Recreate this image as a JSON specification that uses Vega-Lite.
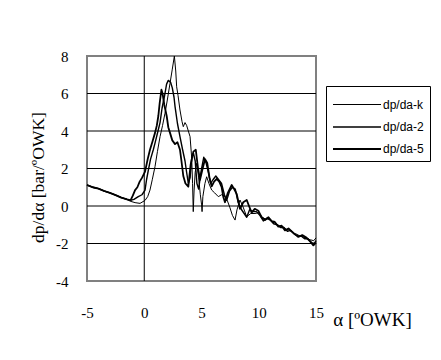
{
  "$schema": "https://vega.github.io/schema/vega-lite/v6.json",
  "width": 229,
  "height": 225,
  "autosize": {"type": "none"},
  "padding": {"left": 87, "top": 56, "right": 125, "bottom": 79},
  "background": "white",
  "config": {
    "view": {"stroke": "#808080", "strokeWidth": 2}
  },
  "datasets": {
    "curves": [
      {"s":"dp/da-k","a":-5,"v":1.12},{"s":"dp/da-k","a":-4.5,"v":1.0},{"s":"dp/da-k","a":-4,"v":0.93},{"s":"dp/da-k","a":-3.5,"v":0.8},{"s":"dp/da-k","a":-3,"v":0.7},{"s":"dp/da-k","a":-2.5,"v":0.58},{"s":"dp/da-k","a":-2,"v":0.45},{"s":"dp/da-k","a":-1.5,"v":0.35},{"s":"dp/da-k","a":-1.2,"v":0.25},
      {"s":"dp/da-k","a":-0.8,"v":0.18},{"s":"dp/da-k","a":-0.37,"v":0.14},{"s":"dp/da-k","a":0.07,"v":0.3},{"s":"dp/da-k","a":0.3,"v":0.5},{"s":"dp/da-k","a":0.5,"v":0.85},{"s":"dp/da-k","a":0.7,"v":1.4},{"s":"dp/da-k","a":0.94,"v":2.1},{"s":"dp/da-k","a":1.15,"v":2.9},{"s":"dp/da-k","a":1.38,"v":3.7},{"s":"dp/da-k","a":1.6,"v":4.3},{"s":"dp/da-k","a":1.81,"v":4.94},{"s":"dp/da-k","a":2.0,"v":5.6},{"s":"dp/da-k","a":2.25,"v":6.54},{"s":"dp/da-k","a":2.45,"v":7.3},{"s":"dp/da-k","a":2.63,"v":8.0},{"s":"dp/da-k","a":2.75,"v":7.2},{"s":"dp/da-k","a":2.83,"v":6.36},{"s":"dp/da-k","a":2.95,"v":5.9},{"s":"dp/da-k","a":3.12,"v":5.12},{"s":"dp/da-k","a":3.3,"v":4.5},{"s":"dp/da-k","a":3.41,"v":4.23},{"s":"dp/da-k","a":3.56,"v":4.45},{"s":"dp/da-k","a":3.7,"v":4.3},{"s":"dp/da-k","a":3.85,"v":4.0},{"s":"dp/da-k","a":4.0,"v":3.7},{"s":"dp/da-k","a":4.14,"v":2.6},{"s":"dp/da-k","a":4.22,"v":1.2},{"s":"dp/da-k","a":4.28,"v":-0.3},{"s":"dp/da-k","a":4.35,"v":0.8},{"s":"dp/da-k","a":4.45,"v":1.8},{"s":"dp/da-k","a":4.58,"v":2.28},{"s":"dp/da-k","a":4.75,"v":1.5},{"s":"dp/da-k","a":4.9,"v":0.6},{"s":"dp/da-k","a":5.0,"v":0.1},{"s":"dp/da-k","a":5.05,"v":-0.3},{"s":"dp/da-k","a":5.12,"v":0.5},{"s":"dp/da-k","a":5.3,"v":1.2},{"s":"dp/da-k","a":5.45,"v":1.56},{"s":"dp/da-k","a":5.65,"v":1.2},{"s":"dp/da-k","a":5.89,"v":0.85},{"s":"dp/da-k","a":6.15,"v":0.7},{"s":"dp/da-k","a":6.47,"v":0.5},{"s":"dp/da-k","a":6.75,"v":0.6},{"s":"dp/da-k","a":7.05,"v":0.5},{"s":"dp/da-k","a":7.25,"v":0.3},{"s":"dp/da-k","a":7.49,"v":-0.1},{"s":"dp/da-k","a":7.7,"v":-0.5},{"s":"dp/da-k","a":7.93,"v":-0.75},{"s":"dp/da-k","a":8.1,"v":-0.2},{"s":"dp/da-k","a":8.36,"v":0.32},{"s":"dp/da-k","a":8.6,"v":0.0},{"s":"dp/da-k","a":8.95,"v":-0.57},{"s":"dp/da-k","a":9.3,"v":-0.4},{"s":"dp/da-k","a":9.67,"v":-0.4},{"s":"dp/da-k","a":10.0,"v":-0.35},{"s":"dp/da-k","a":10.3,"v":-0.6},{"s":"dp/da-k","a":10.6,"v":-0.7},{"s":"dp/da-k","a":10.9,"v":-0.65},{"s":"dp/da-k","a":11.2,"v":-0.85},{"s":"dp/da-k","a":11.5,"v":-0.95},{"s":"dp/da-k","a":11.8,"v":-1.05},{"s":"dp/da-k","a":12.1,"v":-1.1},{"s":"dp/da-k","a":12.4,"v":-1.25},{"s":"dp/da-k","a":12.7,"v":-1.3},{"s":"dp/da-k","a":13.0,"v":-1.45},{"s":"dp/da-k","a":13.3,"v":-1.5},{"s":"dp/da-k","a":13.6,"v":-1.6},{"s":"dp/da-k","a":13.9,"v":-1.65},{"s":"dp/da-k","a":14.2,"v":-1.75},{"s":"dp/da-k","a":14.5,"v":-1.8},{"s":"dp/da-k","a":14.8,"v":-1.85},{"s":"dp/da-k","a":15.0,"v":-1.7},

      {"s":"dp/da-2","a":-5,"v":1.12},{"s":"dp/da-2","a":-4.5,"v":1.0},{"s":"dp/da-2","a":-4,"v":0.93},{"s":"dp/da-2","a":-3.5,"v":0.8},{"s":"dp/da-2","a":-3,"v":0.7},{"s":"dp/da-2","a":-2.5,"v":0.58},{"s":"dp/da-2","a":-2,"v":0.45},{"s":"dp/da-2","a":-1.5,"v":0.35},{"s":"dp/da-2","a":-1.2,"v":0.3},
      {"s":"dp/da-2","a":-0.9,"v":0.35},{"s":"dp/da-2","a":-0.52,"v":0.5},{"s":"dp/da-2","a":-0.2,"v":0.6},{"s":"dp/da-2","a":0.07,"v":0.85},{"s":"dp/da-2","a":0.2,"v":1.4},{"s":"dp/da-2","a":0.36,"v":1.92},{"s":"dp/da-2","a":0.55,"v":2.5},{"s":"dp/da-2","a":0.79,"v":3.0},{"s":"dp/da-2","a":1.0,"v":3.5},{"s":"dp/da-2","a":1.2,"v":4.0},{"s":"dp/da-2","a":1.38,"v":4.45},{"s":"dp/da-2","a":1.55,"v":5.2},{"s":"dp/da-2","a":1.81,"v":6.0},{"s":"dp/da-2","a":1.95,"v":6.5},{"s":"dp/da-2","a":2.1,"v":6.7},{"s":"dp/da-2","a":2.3,"v":6.6},{"s":"dp/da-2","a":2.45,"v":6.3},{"s":"dp/da-2","a":2.6,"v":5.8},{"s":"dp/da-2","a":2.69,"v":5.3},{"s":"dp/da-2","a":2.9,"v":4.4},{"s":"dp/da-2","a":3.12,"v":3.7},{"s":"dp/da-2","a":3.35,"v":3.0},{"s":"dp/da-2","a":3.56,"v":2.4},{"s":"dp/da-2","a":3.7,"v":1.8},{"s":"dp/da-2","a":3.85,"v":1.2},{"s":"dp/da-2","a":4.0,"v":1.5},{"s":"dp/da-2","a":4.15,"v":2.6},{"s":"dp/da-2","a":4.3,"v":2.8},{"s":"dp/da-2","a":4.45,"v":2.4},{"s":"dp/da-2","a":4.6,"v":1.2},{"s":"dp/da-2","a":4.75,"v":0.9},{"s":"dp/da-2","a":4.95,"v":1.8},{"s":"dp/da-2","a":5.2,"v":2.6},{"s":"dp/da-2","a":5.4,"v":2.3},{"s":"dp/da-2","a":5.6,"v":1.8},{"s":"dp/da-2","a":5.8,"v":1.2},{"s":"dp/da-2","a":6.0,"v":1.4},{"s":"dp/da-2","a":6.25,"v":1.6},{"s":"dp/da-2","a":6.5,"v":1.4},{"s":"dp/da-2","a":6.75,"v":1.2},{"s":"dp/da-2","a":7.0,"v":0.6},{"s":"dp/da-2","a":7.2,"v":0.3},{"s":"dp/da-2","a":7.45,"v":0.8},{"s":"dp/da-2","a":7.7,"v":1.0},{"s":"dp/da-2","a":7.95,"v":0.9},{"s":"dp/da-2","a":8.2,"v":0.2},{"s":"dp/da-2","a":8.5,"v":-0.2},{"s":"dp/da-2","a":8.95,"v":-0.6},{"s":"dp/da-2","a":9.2,"v":-0.2},{"s":"dp/da-2","a":9.5,"v":-0.3},{"s":"dp/da-2","a":9.8,"v":-0.3},{"s":"dp/da-2","a":10.1,"v":-0.5},{"s":"dp/da-2","a":10.4,"v":-0.8},{"s":"dp/da-2","a":10.7,"v":-0.65},{"s":"dp/da-2","a":11.0,"v":-0.75},{"s":"dp/da-2","a":11.3,"v":-0.95},{"s":"dp/da-2","a":11.6,"v":-1.0},{"s":"dp/da-2","a":11.9,"v":-1.15},{"s":"dp/da-2","a":12.2,"v":-1.15},{"s":"dp/da-2","a":12.5,"v":-1.35},{"s":"dp/da-2","a":12.8,"v":-1.3},{"s":"dp/da-2","a":13.1,"v":-1.5},{"s":"dp/da-2","a":13.4,"v":-1.6},{"s":"dp/da-2","a":13.7,"v":-1.6},{"s":"dp/da-2","a":14.0,"v":-1.75},{"s":"dp/da-2","a":14.3,"v":-1.75},{"s":"dp/da-2","a":14.6,"v":-1.95},{"s":"dp/da-2","a":14.85,"v":-2.0},{"s":"dp/da-2","a":15.0,"v":-1.85},

      {"s":"dp/da-5","a":-5,"v":1.12},{"s":"dp/da-5","a":-4.5,"v":1.0},{"s":"dp/da-5","a":-4,"v":0.93},{"s":"dp/da-5","a":-3.5,"v":0.8},{"s":"dp/da-5","a":-3,"v":0.7},{"s":"dp/da-5","a":-2.5,"v":0.58},{"s":"dp/da-5","a":-2,"v":0.45},{"s":"dp/da-5","a":-1.5,"v":0.35},{"s":"dp/da-5","a":-1.2,"v":0.3},
      {"s":"dp/da-5","a":-1.0,"v":0.55},{"s":"dp/da-5","a":-0.8,"v":0.85},{"s":"dp/da-5","a":-0.6,"v":1.0},{"s":"dp/da-5","a":-0.4,"v":1.3},{"s":"dp/da-5","a":-0.2,"v":1.5},{"s":"dp/da-5","a":0.07,"v":1.83},{"s":"dp/da-5","a":0.3,"v":2.5},{"s":"dp/da-5","a":0.5,"v":3.0},{"s":"dp/da-5","a":0.7,"v":3.4},{"s":"dp/da-5","a":0.94,"v":3.9},{"s":"dp/da-5","a":1.1,"v":4.3},{"s":"dp/da-5","a":1.23,"v":4.8},{"s":"dp/da-5","a":1.35,"v":5.5},{"s":"dp/da-5","a":1.5,"v":6.2},{"s":"dp/da-5","a":1.6,"v":6.0},{"s":"dp/da-5","a":1.75,"v":5.4},{"s":"dp/da-5","a":1.96,"v":4.8},{"s":"dp/da-5","a":2.1,"v":4.2},{"s":"dp/da-5","a":2.25,"v":3.9},{"s":"dp/da-5","a":2.45,"v":3.5},{"s":"dp/da-5","a":2.69,"v":3.3},{"s":"dp/da-5","a":2.9,"v":3.4},{"s":"dp/da-5","a":3.12,"v":3.0},{"s":"dp/da-5","a":3.25,"v":2.4},{"s":"dp/da-5","a":3.41,"v":1.6},{"s":"dp/da-5","a":3.6,"v":1.2},{"s":"dp/da-5","a":3.85,"v":1.03},{"s":"dp/da-5","a":4.05,"v":2.2},{"s":"dp/da-5","a":4.29,"v":2.9},{"s":"dp/da-5","a":4.5,"v":3.0},{"s":"dp/da-5","a":4.7,"v":2.0},{"s":"dp/da-5","a":4.87,"v":1.4},{"s":"dp/da-5","a":5.1,"v":2.0},{"s":"dp/da-5","a":5.31,"v":2.5},{"s":"dp/da-5","a":5.5,"v":2.3},{"s":"dp/da-5","a":5.7,"v":1.5},{"s":"dp/da-5","a":5.89,"v":1.05},{"s":"dp/da-5","a":6.1,"v":1.3},{"s":"dp/da-5","a":6.33,"v":1.45},{"s":"dp/da-5","a":6.55,"v":1.3},{"s":"dp/da-5","a":6.76,"v":1.0},{"s":"dp/da-5","a":6.9,"v":0.5},{"s":"dp/da-5","a":7.05,"v":0.2},{"s":"dp/da-5","a":7.3,"v":0.7},{"s":"dp/da-5","a":7.64,"v":1.12},{"s":"dp/da-5","a":7.85,"v":0.9},{"s":"dp/da-5","a":8.07,"v":0.65},{"s":"dp/da-5","a":8.36,"v":-0.15},{"s":"dp/da-5","a":8.65,"v":0.2},{"s":"dp/da-5","a":8.95,"v":0.32},{"s":"dp/da-5","a":9.15,"v":0.0},{"s":"dp/da-5","a":9.38,"v":-0.35},{"s":"dp/da-5","a":9.65,"v":-0.15},{"s":"dp/da-5","a":9.96,"v":-0.25},{"s":"dp/da-5","a":10.25,"v":-0.6},{"s":"dp/da-5","a":10.55,"v":-0.75},{"s":"dp/da-5","a":10.85,"v":-0.6},{"s":"dp/da-5","a":11.13,"v":-0.8},{"s":"dp/da-5","a":11.4,"v":-0.85},{"s":"dp/da-5","a":11.71,"v":-1.1},{"s":"dp/da-5","a":12.0,"v":-1.05},{"s":"dp/da-5","a":12.29,"v":-1.3},{"s":"dp/da-5","a":12.6,"v":-1.2},{"s":"dp/da-5","a":12.88,"v":-1.35},{"s":"dp/da-5","a":13.15,"v":-1.5},{"s":"dp/da-5","a":13.46,"v":-1.65},{"s":"dp/da-5","a":13.8,"v":-1.55},{"s":"dp/da-5","a":14.19,"v":-1.7},{"s":"dp/da-5","a":14.5,"v":-1.9},{"s":"dp/da-5","a":14.77,"v":-2.1},{"s":"dp/da-5","a":15.0,"v":-1.95}
    ]
  },
  "encoding": {
    "x": {
      "type": "quantitative",
      "scale": {"domain": [-5, 15], "nice": false, "zero": false},
      "axis": {"values": [-5, 0, 5, 10, 15], "grid": false, "ticks": false, "domain": false,
        "labelFont": "Liberation Serif", "labelFontSize": 15, "labelColor": "black", "labelPadding": 24, "labelFlush": false,
        "labelExpr": "'' + datum.value",
        "title": "α [ºOWK]", "titleFont": "Liberation Serif", "titleFontWeight": "normal", "titleColor": "black", "titleFontSize": 19,
        "titleX": 285, "titleY": 38, "titleAlign": "center", "titleBaseline": "middle"}
    },
    "y": {
      "type": "quantitative",
      "scale": {"domain": [-4, 8], "nice": false, "zero": false},
      "axis": {"values": [-4, -2, 0, 2, 4, 6, 8], "grid": false, "ticks": false, "domain": false,
        "labelFont": "Liberation Serif", "labelFontSize": 15, "labelColor": "black", "labelPadding": 19,
        "labelExpr": "'' + datum.value",
        "title": "dp/dα [bar/ºOWK]", "titleFont": "Liberation Serif", "titleFontWeight": "normal", "titleColor": "black", "titleFontSize": 17.5,
        "titleX": -49, "titleY": 121, "titleAngle": 270, "titleAlign": "center", "titleBaseline": "middle"}
    }
  },
  "layer": [
    {
      "data": {"values": [{"g": -2}, {"g": 0}, {"g": 2}, {"g": 4}, {"g": 6}]},
      "mark": {"type": "rule", "color": "black", "strokeWidth": 1},
      "encoding": {"y": {"field": "g"}}
    },
    {
      "data": {"values": [{"g": 0}]},
      "mark": {"type": "rule", "color": "black", "strokeWidth": 1},
      "encoding": {"x": {"field": "g"}}
    },
    {
      "data": {"name": "curves"},
      "mark": {"type": "line", "color": "black", "strokeJoin": "round"},
      "encoding": {
        "x": {"field": "a"},
        "y": {"field": "v"},
        "detail": {"field": "s"},
        "strokeWidth": {
          "field": "s", "type": "nominal",
          "scale": {"domain": ["dp/da-k", "dp/da-2", "dp/da-5"], "range": [1, 1.8, 4.5]},
          "legend": {
            "title": null, "orient": "none", "legendX": 239, "legendY": 30,
            "symbolType": "M-1,0H3", "symbolSize": 576, "symbolStrokeColor": "black",
            "labelFont": "Liberation Sans", "labelFontSize": 12, "labelColor": "black", "labelOffset": 25,
            "strokeColor": "black", "padding": 6, "rowPadding": 3
          }
        }
      }
    }
  ]
}
